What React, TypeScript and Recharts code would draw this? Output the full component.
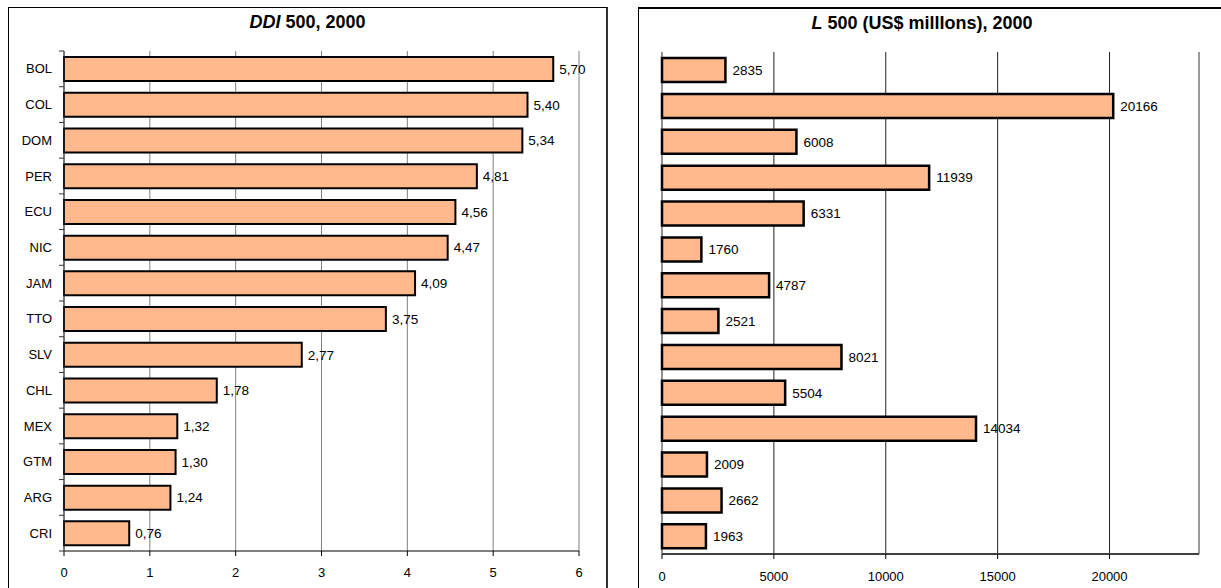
import React from 'react'
import { BarChart, Bar, XAxis, YAxis, CartesianGrid, LabelList, ReferenceLine } from 'recharts'

const codes = ['BOL', 'COL', 'DOM', 'PER', 'ECU', 'NIC', 'JAM', 'TTO', 'SLV', 'CHL', 'MEX', 'GTM', 'ARG', 'CRI']
const ddiValues = [5.7, 5.4, 5.34, 4.81, 4.56, 4.47, 4.09, 3.75, 2.77, 1.78, 1.32, 1.3, 1.24, 0.76]
const lValues = [2835, 20166, 6008, 11939, 6331, 1760, 4787, 2521, 8021, 5504, 14034, 2009, 2662, 1963]
const ddiTicks = [0, 1, 2, 3, 4, 5, 6]
const lTicks = [0, 5000, 10000, 15000, 20000]
const lMax = 24000

const rows = codes.map((code, i) => ({ code, ddi: ddiValues[i], l: lValues[i] }))

const FONT = '"Liberation Sans", Arial, sans-serif'
const FILL = '#FFB98C'

// left chart geometry
const L_W = 596
const L_H = 580
const L_MARGIN = { top: 43, right: 26, bottom: 0, left: 0 }
const L_YAXIS_W = 55
const L_XAXIS_H = 37
const bandH = (L_H - L_MARGIN.top - L_MARGIN.bottom - L_XAXIS_H) / codes.length

function CatTick(props: any) {
  const { y, payload, index } = props
  const axisX = L_MARGIN.left + L_YAXIS_W
  return (
    <g>
      <text x={axisX - 12} y={y} textAnchor="end" dominantBaseline="central" fontSize={13} fill="#000" fontFamily={FONT}>
        {payload.value}
      </text>
      <line x1={axisX - 5} x2={axisX} y1={y - bandH / 2} y2={y - bandH / 2} stroke="#333" />
      {index === codes.length - 1 && (
        <line x1={axisX - 5} x2={axisX} y1={y + bandH / 2} y2={y + bandH / 2} stroke="#333" />
      )}
    </g>
  )
}

const commaFmt = (v: any) => Number(v).toFixed(2).replace('.', ',')

function DdiChart() {
  return (
    <BarChart layout="vertical" width={L_W} height={L_H} data={rows} margin={L_MARGIN} barCategoryGap="17%">
      <CartesianGrid horizontal={false} stroke="#808080" />
      <XAxis
        type="number"
        dataKey="ddi"
        domain={[0, 6]}
        ticks={ddiTicks}
        interval={0}
        height={L_XAXIS_H}
        tickSize={5}
        tickMargin={12}
        tick={{ fill: '#000', fontSize: 13, fontFamily: FONT }}
        tickLine={{ stroke: '#000' }}
        axisLine={{ stroke: '#000' }}
      />
      <XAxis xAxisId="top" orientation="top" type="number" domain={[0, 6]} ticks={ddiTicks} height={0} tick={false} tickLine={false} axisLine={{ stroke: '#808080' }} />
      <YAxis type="category" dataKey="code" width={L_YAXIS_W} interval={0} tickLine={false} axisLine={{ stroke: '#333' }} tick={<CatTick />} />
      <Bar dataKey="ddi" fill={FILL} stroke="#000" strokeWidth={2} isAnimationActive={false}>
        <LabelList dataKey="ddi" position="right" offset={6} formatter={commaFmt} fill="#000" fontSize={13.5} fontFamily={FONT} />
      </Bar>
    </BarChart>
  )
}

function LChart() {
  return (
    <BarChart layout="vertical" width={580} height={579} data={rows} margin={{ top: 43, right: 20, bottom: 0, left: 23 }} barCategoryGap="17%">
      <CartesianGrid horizontal={false} stroke="#222" />
      <XAxis
        type="number"
        dataKey="l"
        domain={[0, lMax]}
        ticks={lTicks}
        interval={0}
        height={34}
        tickSize={5}
        tickMargin={13}
        tick={{ fill: '#000', fontSize: 13, fontFamily: FONT }}
        tickLine={{ stroke: '#000' }}
        axisLine={{ stroke: '#404040', strokeWidth: 2 }}
      />
      <XAxis xAxisId="top" orientation="top" type="number" domain={[0, lMax]} ticks={lTicks} height={0} tick={false} tickLine={false} axisLine={{ stroke: '#999', strokeWidth: 2 }} />
      <YAxis type="category" dataKey="code" width={0} tick={false} tickLine={false} axisLine={{ stroke: '#999', strokeWidth: 2 }} />
      <ReferenceLine x={lMax} stroke="#999" strokeWidth={2} />
      <Bar dataKey="l" fill={FILL} stroke="#000" strokeWidth={2.5} isAnimationActive={false}>
        <LabelList dataKey="l" position="right" offset={7} fill="#000" fontSize={13.5} fontFamily={FONT} />
      </Bar>
    </BarChart>
  )
}

const titleStyle: React.CSSProperties = {
  position: 'absolute',
  top: 4,
  width: '100%',
  textAlign: 'center',
  fontFamily: FONT,
  fontWeight: 'bold',
  fontSize: 18,
}

export default function App() {
  return (
    <div style={{ position: 'absolute', left: 0, top: 0, width: 1221, height: 588, overflow: 'hidden', background: '#fff' }}>
      <div style={{ position: 'absolute', left: 8, top: 7, width: 597, height: 600, borderLeft: '1px solid #000', borderTop: '1px solid #000', borderRight: '2px solid #333' }}>
        <div style={titleStyle}>
          <i>DDI</i> 500, 2000
        </div>
        <div style={{ position: 'absolute', left: 0, top: 0 }}>
          <DdiChart />
        </div>
      </div>
      <div style={{ position: 'absolute', left: 638, top: 7, width: 600, height: 600, borderLeft: '1px solid #000', borderTop: '2px solid #000' }}>
        <div style={{ ...titleStyle, width: 566 }}>
          <i>L</i> 500 (US$ millIons), 2000
        </div>
        <div style={{ position: 'absolute', left: 0, top: 0 }}>
          <LChart />
        </div>
      </div>
    </div>
  )
}
